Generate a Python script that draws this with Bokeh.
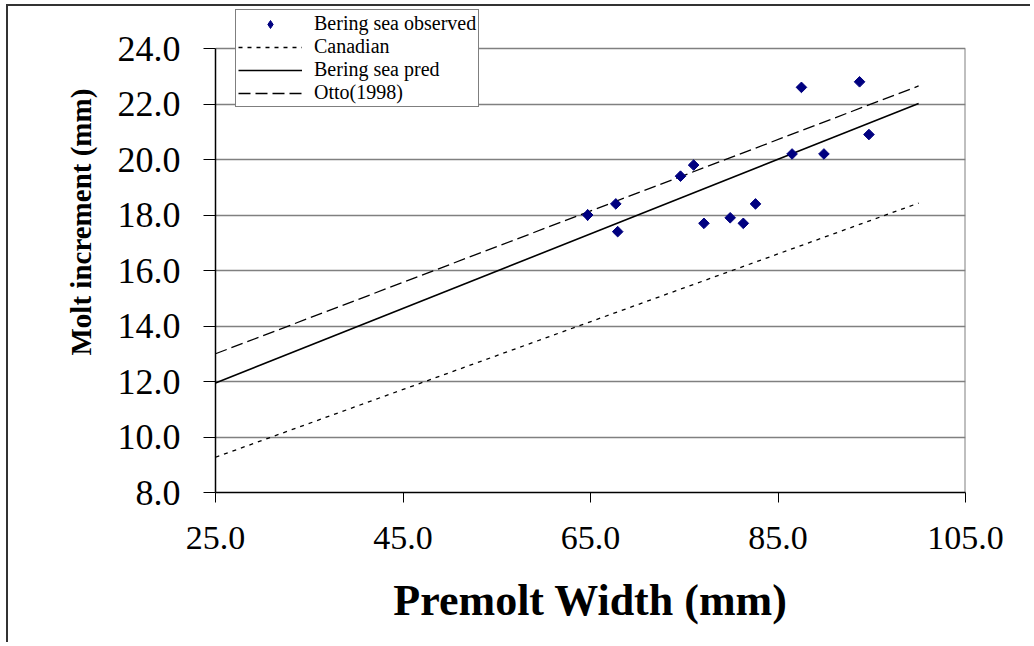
import math
from bokeh.plotting import figure
from bokeh.models import Legend, LegendItem, FixedTicker, NumeralTickFormatter, Range1d, Title
from bokeh.embed import file_html
from bokeh.resources import INLINE

# ---- data ----
obs_x = [64.7, 67.7, 67.9, 74.6, 76.0, 77.1, 79.9, 81.3, 82.6, 86.5, 87.5, 89.9, 93.7, 94.7]
obs_y = [18.0, 18.4, 17.4, 19.4, 19.8, 17.7, 17.9, 17.7, 18.4, 20.2, 22.6, 20.2, 22.8, 20.9]
line_x = [25.0, 100.0]
canadian_y = [9.27, 18.43]
bering_pred_y = [11.95, 22.02]
otto_y = [13.0, 22.65]
x_ticks = [25, 45, 65, 85, 105]
y_ticks = [8, 10, 12, 14, 16, 18, 20, 22, 24]
x_title = "Premolt Width (mm)"
y_title = "Molt increment (mm)"
labels = ["Bering sea observed", "Canadian", "Bering sea pred", "Otto(1998)"]

FONT = "Liberation Serif"
NAVY = "#000080"
# extra head-room above 24.0 so the legend (which sits above the plot area) is not clipped
Y_TOP = 25.514

p = figure(width=1024, height=638, output_backend="svg", toolbar_location=None,
           x_range=Range1d(x_ticks[0], x_ticks[-1]), y_range=Range1d(y_ticks[0], Y_TOP),
           min_border_left=207, min_border_right=67, min_border_top=0, min_border_bottom=152)
p.styles = {"margin-left": "6px", "margin-top": "4px",
            "border-left": "2px solid #333333", "border-top": "2px solid #333333"}

p.background_fill_color = "white"
p.border_fill_color = "white"
p.outline_line_color = None

p.xgrid.visible = False
p.ygrid.ticker = FixedTicker(ticks=y_ticks)
p.ygrid.grid_line_color = "#808080"
p.ygrid.grid_line_width = 1.5

# right border of the plot area
p.segment(x0=[x_ticks[-1]], y0=[y_ticks[0]], x1=[x_ticks[-1]], y1=[y_ticks[-1]],
          line_color="#808080", line_width=2)

for ax, ticks in ((p.xaxis[0], x_ticks), (p.yaxis[0], y_ticks)):
    ax.ticker = FixedTicker(ticks=ticks)
    ax.formatter = NumeralTickFormatter(format="0.0")
    ax.minor_tick_line_color = None
    ax.major_tick_in = 0
    ax.axis_line_color = "black"
    ax.axis_line_width = 1.5
    ax.major_tick_line_color = "black"
    ax.major_label_text_font = FONT
    ax.major_label_text_color = "black"
    ax.axis_label_text_font = FONT
    ax.axis_label_text_font_style = "bold"
    ax.axis_label_text_color = "black"

p.yaxis[0].bounds = (y_ticks[0], y_ticks[-1])
p.xaxis.major_tick_out = 10
p.yaxis.major_tick_out = 12
p.xaxis.major_label_text_font_size = "34px"
p.yaxis.major_label_text_font_size = "36px"
p.xaxis.major_label_standoff = 24
p.yaxis.major_label_standoff = 23
p.xaxis.axis_label = x_title
p.xaxis.axis_label_text_font_size = "44px"
p.xaxis.axis_label_standoff = 24

# y title as a side Title so it can sit off-centre like the reference
ytitle = Title(text=y_title, align="left", offset=137, standoff=35,
               text_font=FONT, text_font_style="bold", text_color="black",
               text_font_size="29px")
p.add_layout(ytitle, "left")

r_can = p.line(line_x, canadian_y, line_color="black", line_width=1.3, line_dash="4 5")
r_pred = p.line(line_x, bering_pred_y, line_color="black", line_width=1.6)
r_otto = p.line(line_x, otto_y, line_color="black", line_width=1.3, line_dash="12 5")
# legend swatch for the observed points (diamond), hidden under the first observed point
r_obs_key = p.scatter(obs_x[:1], obs_y[:1], marker="diamond", size=11,
                      fill_color=NAVY, line_color=NAVY)
r_obs = p.scatter(obs_x, obs_y, marker="square", size=7.5, angle=math.pi / 4,
                  fill_color=NAVY, line_color=NAVY)

legend = Legend(items=[
    LegendItem(label=labels[0], renderers=[r_obs_key]),
    LegendItem(label=labels[1], renderers=[r_can]),
    LegendItem(label=labels[2], renderers=[r_pred]),
    LegendItem(label=labels[3], renderers=[r_otto]),
], location=(20, 385))
legend.label_text_font = FONT
legend.label_text_font_size = "20px"
legend.label_text_color = "black"
legend.label_height = 20
legend.glyph_height = 20
legend.glyph_width = 64
legend.label_standoff = 12
legend.spacing = 0
legend.padding = 2
legend.margin = 0
legend.border_line_color = "black"
legend.border_line_width = 1.2
legend.background_fill_color = "white"
legend.background_fill_alpha = 1.0
p.add_layout(legend, "center")

open("out.html", "w").write(file_html(p, INLINE))
